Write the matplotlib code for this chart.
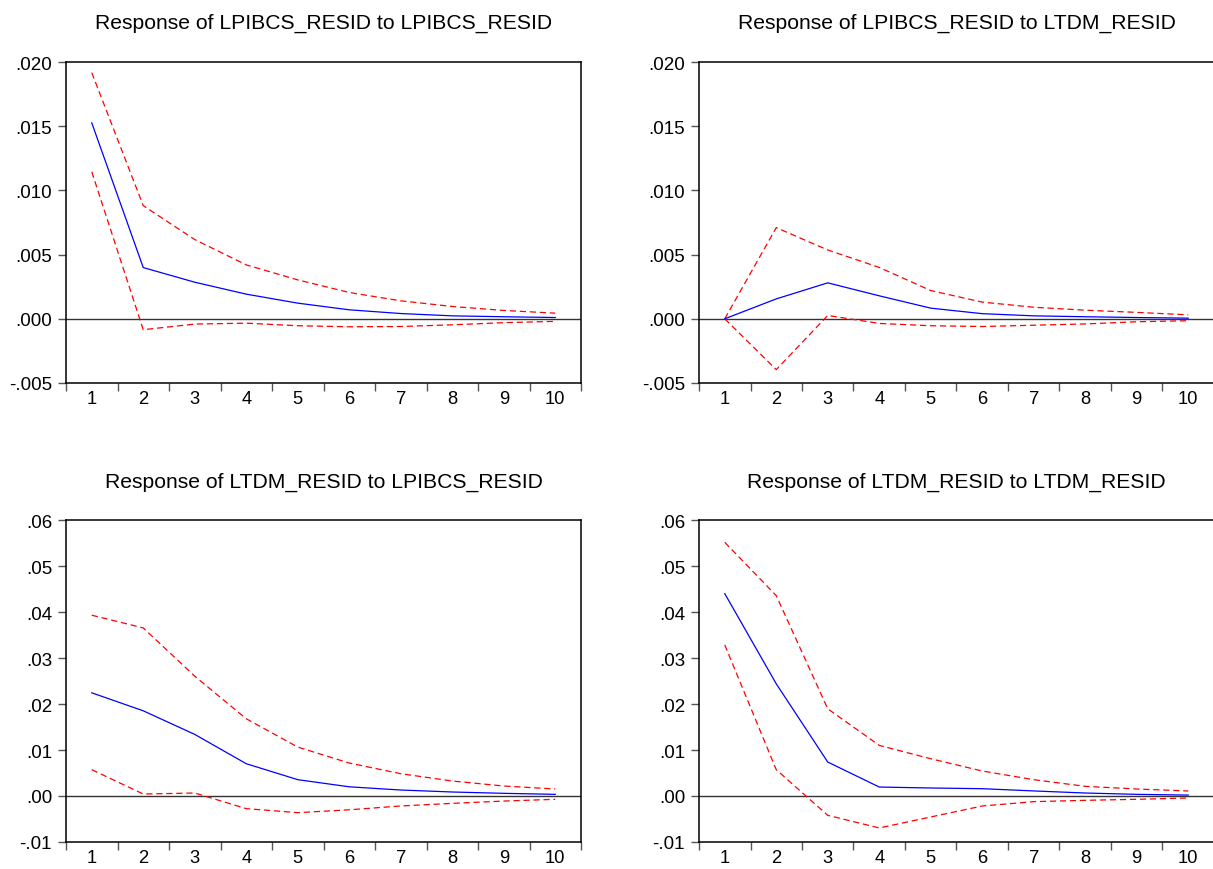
import matplotlib
matplotlib.use("Agg")
import matplotlib.pyplot as plt
from matplotlib.ticker import FixedLocator, FuncFormatter

plt.rcParams['font.family'] = ['Liberation Sans', 'DejaVu Sans']

periods = [1, 2, 3, 4, 5, 6, 7, 8, 9, 10]

titles = [
    "Response of LPIBCS_RESID to LPIBCS_RESID",
    "Response of LPIBCS_RESID to LTDM_RESID",
    "Response of LTDM_RESID to LPIBCS_RESID",
    "Response of LTDM_RESID to LTDM_RESID",
]

# Panel 1: LPIBCS -> LPIBCS
p1_resp = [0.01526, 0.00399, 0.00285, 0.00192, 0.00122, 0.00070, 0.00041, 0.00023, 0.00016, 0.00010]
p1_up = [0.01917, 0.00881, 0.00617, 0.00420, 0.00303, 0.00205, 0.00140, 0.00096, 0.00065, 0.00044]
p1_lo = [0.01145, -0.00085, -0.00041, -0.00034, -0.00054, -0.00062, -0.00060, -0.00047, -0.00030, -0.00020]

# Panel 2: LTDM -> LPIBCS
p2_resp = [0.0, 0.00155, 0.00280, 0.00179, 0.00083, 0.00040, 0.00023, 0.00016, 0.00010, 0.00005]
p2_up = [0.0, 0.00710, 0.00536, 0.00400, 0.00220, 0.00130, 0.00090, 0.00067, 0.00050, 0.00031]
p2_lo = [0.0, -0.00396, 0.00026, -0.00036, -0.00054, -0.00060, -0.00050, -0.00040, -0.00023, -0.00015]

# Panel 3: LPIBCS -> LTDM
p3_resp = [0.02243, 0.01852, 0.01339, 0.00702, 0.00355, 0.00200, 0.00130, 0.00087, 0.00058, 0.00036]
p3_up = [0.0393, 0.03654, 0.02605, 0.01679, 0.01064, 0.00716, 0.00485, 0.00326, 0.00217, 0.00152]
p3_lo = [0.00572, 0.00043, 0.00065, -0.00275, -0.00362, -0.00300, -0.00217, -0.00160, -0.00110, -0.00072]

# Panel 4: LTDM -> LTDM
p4_resp = [0.0440, 0.02439, 0.00738, 0.00195, 0.00174, 0.00159, 0.00110, 0.00065, 0.00036, 0.00020]
p4_up = [0.05515, 0.04356, 0.01896, 0.01100, 0.00810, 0.00543, 0.00355, 0.00210, 0.00152, 0.00109]
p4_lo = [0.03285, 0.00572, -0.00420, -0.00695, -0.00456, -0.00217, -0.00123, -0.00094, -0.00072, -0.00043]

top_yticks = [-0.005, 0.0, 0.005, 0.010, 0.015, 0.020]
bot_yticks = [-0.01, 0.0, 0.01, 0.02, 0.03, 0.04, 0.05, 0.06]

W, H = 1213, 870
fig = plt.figure(figsize=(W / 100, H / 100), dpi=100)


def fmt_top(v, pos):
    if abs(v) < 1e-12:
        return ".000"
    return ("%.3f" % v).replace("0.", ".", 1)


def fmt_bot(v, pos):
    if abs(v) < 1e-12:
        return ".00"
    return ("%.2f" % v).replace("0.", ".", 1)


panels = [
    (titles[0], p1_resp, p1_up, p1_lo, top_yticks, fmt_top, (66, 63, 581, 384), 25),
    (titles[1], p2_resp, p2_up, p2_lo, top_yticks, fmt_top, (699, 63, 1214, 384), 25),
    (titles[2], p3_resp, p3_up, p3_lo, bot_yticks, fmt_bot, (66, 521, 581, 843), 24),
    (titles[3], p4_resp, p4_up, p4_lo, bot_yticks, fmt_bot, (699, 521, 1214, 843), 24),
]

for title, resp, up, lo, yt, fmt, (l, t, r, b), tpad in panels:
    ax = fig.add_axes([l / W, 1 - b / H, (r - l) / W, (b - t) / H])
    ax.axhline(0, color='#333333', lw=1.0, zorder=1)
    ax.plot(periods, up, color='#ff0000', lw=0.9, linestyle=(0, (5, 3)), zorder=2)
    ax.plot(periods, lo, color='#ff0000', lw=0.9, linestyle=(0, (5, 3)), zorder=2)
    ax.plot(periods, resp, color='#0000ff', lw=0.9, zorder=3)
    ax.set_xlim(0.5, 10.5)
    ax.set_ylim(yt[0], yt[-1])
    ax.set_xticks(periods)
    ax.set_xticklabels([str(p) for p in periods])
    ax.xaxis.set_minor_locator(FixedLocator([p - 0.5 for p in periods] + [10.5]))
    ax.set_yticks(yt)
    ax.yaxis.set_major_formatter(FuncFormatter(fmt))
    ax.tick_params(axis='x', which='major', length=0, pad=5, labelsize=13.2)
    ax.tick_params(axis='x', which='minor', length=6, width=1.0, color='#555555', direction='out')
    ax.tick_params(axis='y', which='major', length=6, width=1.0, color='#555555', direction='out',
                   pad=4, labelsize=13.5)
    for sp in ax.spines.values():
        sp.set_linewidth(1.1)
        sp.set_color('black')
    ax.set_title(title, fontsize=15.2, pad=tpad)

fig.savefig("out.png", dpi=100)
